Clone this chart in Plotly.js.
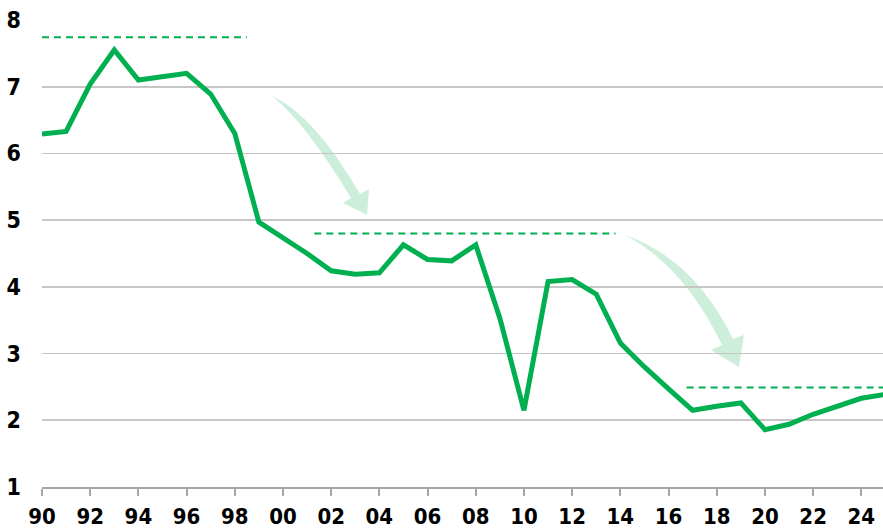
<!DOCTYPE html>
<html>
<head>
<meta charset="utf-8">
<script src="https://cdn.plot.ly/plotly-3.0.1.min.js"></script>
<style>
  html, body { margin: 0; padding: 0; background: #ffffff; }
  #chart { width: 883px; height: 531px; }
</style>
</head>
<body>
<div id="chart"></div>
<script>
// ---- data ----
var years = [1990,1991,1992,1993,1994,1995,1996,1997,1998,1999,
             2000,2001,2002,2003,2004,2005,2006,2007,2008,2009,
             2010,2011,2012,2013,2014,2015,2016,2017,2018,2019,
             2020,2021,2022,2023,2024,2025];
var values = [6.29,6.33,7.04,7.55,7.10,7.15,7.20,6.89,6.30,4.97,
              4.74,4.50,4.24,4.19,4.21,4.63,4.41,4.39,4.63,3.53,
              2.15,4.08,4.11,3.89,3.16,2.80,2.47,2.15,2.21,2.26,
              1.86,1.94,2.09,2.21,2.33,2.39];

// average-level reference lines (start year, end year, level)
var levelStarts = [1990, 2001.3, 2016.75];
var levelEnds   = [1998.5, 2013.8, 2025];
var levelValues = [7.74, 4.80, 2.49];

var tickYears  = [1990,1992,1994,1996,1998,2000,2002,2004,2006,2008,
                  2010,2012,2014,2016,2018,2020,2022,2024];
var tickLabels = ['90','92','94','96','98','00','02','04','06','08',
                  '10','12','14','16','18','20','22','24'];
var yTicks = [1,2,3,4,5,6,7,8];

// ---- layout geometry ----
var W = 883, H = 531;
var M = {l: 42, r: 0, t: 20, b: 44};
var xRange = [1990, 2024.9];
var yRange = [1, 8];
function px2x(px) { return xRange[0] + (px - M.l) * (xRange[1] - xRange[0]) / (W - M.l - M.r); }
function px2y(py) { return yRange[1] - (py - M.t) * (yRange[1] - yRange[0]) / (H - M.t - M.b); }
function P(px, py) { return px2x(px).toFixed(4) + ',' + px2y(py).toFixed(4); }

// curved decorative arrow (pixel geometry converted to data coords)
function arrowPath(tail, cOut, shaftOut, headR, tip, headL, shaftIn, cIn) {
  return 'M' + P(tail[0], tail[1]) +
         ' Q' + P(cOut[0], cOut[1]) + ' ' + P(shaftOut[0], shaftOut[1]) +
         ' L' + P(headR[0], headR[1]) +
         ' L' + P(tip[0], tip[1]) +
         ' L' + P(headL[0], headL[1]) +
         ' L' + P(shaftIn[0], shaftIn[1]) +
         ' Q' + P(cIn[0], cIn[1]) + ' ' + P(tail[0], tail[1]) + ' Z';
}

var arrowColor = '#cdeedb';
var shapes = [
  {type: 'path', xref: 'x', yref: 'y', layer: 'below',
   path: arrowPath([272,96],[314,115],[360,194],[369,189],[367,215],[343,203],[351,198],[305,122]),
   fillcolor: arrowColor, line: {width: 0}},
  {type: 'path', xref: 'x', yref: 'y', layer: 'below',
   path: arrowPath([625,235],[694,259],[733,339],[744,335],[739,367],[711,350],[722,345],[684,266]),
   fillcolor: arrowColor, line: {width: 0}}
];

var traces = [];
for (var i = 0; i < levelValues.length; i++) {
  traces.push({
    x: [levelStarts[i], levelEnds[i]],
    y: [levelValues[i], levelValues[i]],
    mode: 'lines', type: 'scatter', hoverinfo: 'skip', showlegend: false,
    line: {color: '#00b050', width: 2, dash: '7px,5px'}
  });
}
traces.push({
  x: years, y: values, mode: 'lines', type: 'scatter', showlegend: false,
  line: {color: '#00b050', width: 5}
});

var fontFamily = '"Liberation Sans Narrow", "DejaVu Sans Condensed", Arial, sans-serif';

var layout = {
  width: W, height: H,
  margin: M,
  paper_bgcolor: '#ffffff', plot_bgcolor: '#ffffff',
  showlegend: false,
  xaxis: {
    range: xRange, tickmode: 'array', tickvals: tickYears, ticktext: tickLabels,
    showgrid: false, zeroline: false,
    showline: true, linecolor: '#a6a6a6', linewidth: 2,
    ticks: 'outside', ticklen: 7, tickwidth: 2, tickcolor: '#a6a6a6',
    ticklabelstandoff: 2,
    tickfont: {family: fontFamily, size: 22, color: '#000000', weight: 'bold'},
    fixedrange: true
  },
  yaxis: {
    range: yRange, tickmode: 'array', tickvals: yTicks,
    showgrid: true, gridcolor: '#c6c6c6', gridwidth: 1.6,
    zeroline: false, showline: false,
    ticks: '', ticklabelstandoff: 20,
    tickfont: {family: fontFamily, size: 23, color: '#000000', weight: 'bold'},
    fixedrange: true
  },
  shapes: shapes
};

Plotly.newPlot('chart', traces, layout, {staticPlot: true, displayModeBar: false});
</script>
</body>
</html>
